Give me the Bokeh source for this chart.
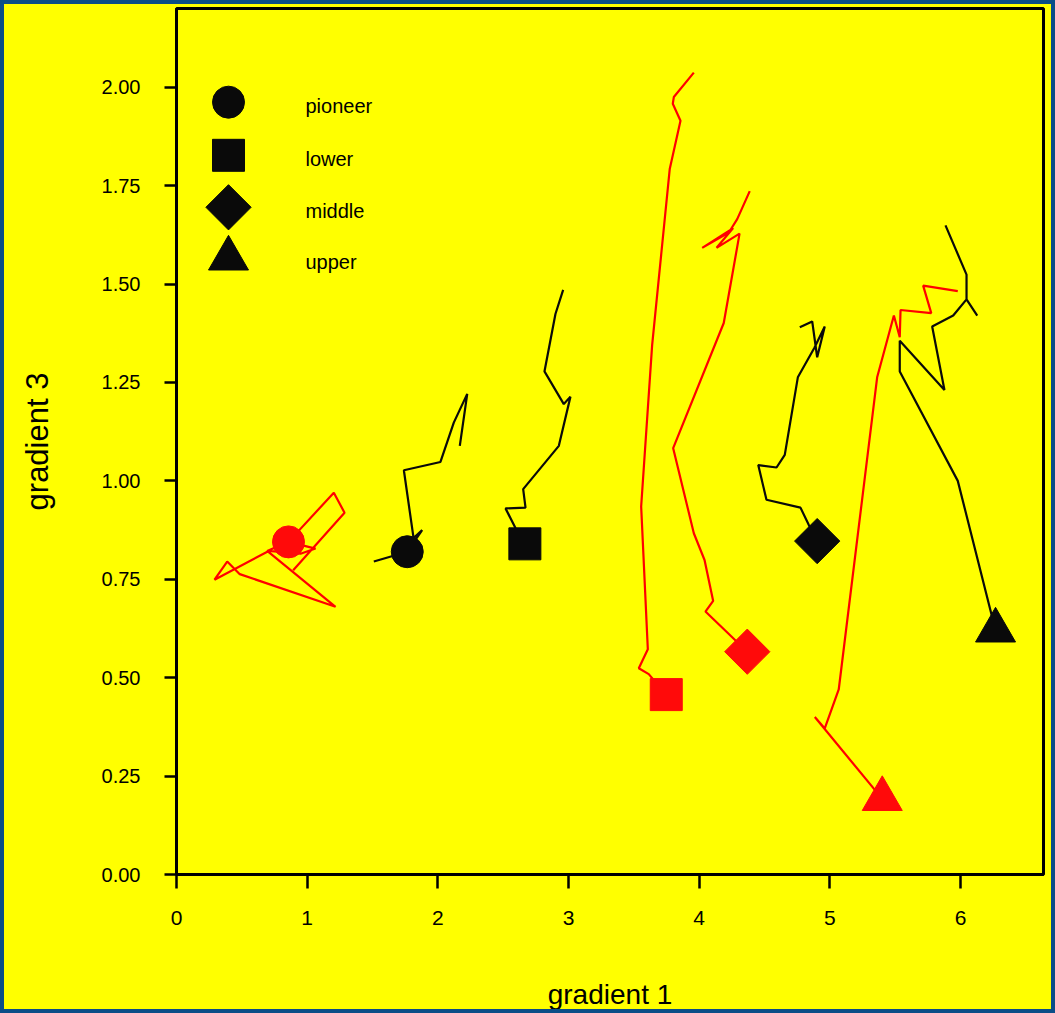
import math

from bokeh.plotting import figure
from bokeh.models import Range1d, FixedTicker, PrintfTickFormatter, ColumnDataSource
from bokeh.core.properties import value
from bokeh.embed import file_html
from bokeh.resources import INLINE

# ---- data -----------------------------------------------------------------
groups = ["pioneer", "lower", "middle", "upper"]
group_markers = ["circle", "square", "square", "triangle"]   # middle = square turned 45 deg
group_angles = [0.0, 0.0, math.pi / 4, 0.0]
group_sizes = [32, 32, 32, 40]

# end positions (gradient 1, gradient 3)
black_end_x = [1.766, 2.666, 4.903, 6.268]
black_end_y = [0.820, 0.840, 0.847, 0.620]
red_end_x = [0.857, 3.748, 4.368, 5.401]
red_end_y = [0.845, 0.457, 0.566, 0.192]

# trajectories, black series
black_pioneer_x = [1.510, 1.766, 1.880, 1.814, 1.740, 2.020, 2.122, 2.225, 2.168]
black_pioneer_y = [0.795, 0.820, 0.875, 0.855, 1.027, 1.048, 1.148, 1.221, 1.089]
black_lower_x = [2.666, 2.594, 2.518, 2.671, 2.653, 2.926, 3.015, 2.964, 2.816, 2.900, 2.959]
black_lower_y = [0.840, 0.880, 0.930, 0.932, 0.979, 1.089, 1.214, 1.195, 1.278, 1.424, 1.485]
black_middle_x = [4.903, 4.839, 4.775, 4.515, 4.452, 4.592, 4.655, 4.755, 4.883, 4.961, 4.903, 4.865, 4.770]
black_middle_y = [0.847, 0.888, 0.932, 0.952, 1.040, 1.034, 1.066, 1.263, 1.339, 1.392, 1.314, 1.405, 1.390]
black_upper_x = [6.268, 5.979, 5.535, 5.535, 5.877, 5.783, 5.944, 6.046, 6.128, 6.046, 6.046, 5.885]
black_upper_y = [0.620, 1.000, 1.278, 1.356, 1.231, 1.392, 1.420, 1.461, 1.420, 1.461, 1.524, 1.649]

# trajectories, red series
red_pioneer_x = [0.857, 1.064, 0.949, 0.706, 0.291, 0.388, 0.484, 1.217, 0.694, 0.857, 1.204, 1.286, 0.893]
red_pioneer_y = [0.845, 0.828, 0.815, 0.822, 0.749, 0.795, 0.763, 0.680, 0.822, 0.845, 0.970, 0.919, 0.773]
red_lower_x = [3.748, 3.614, 3.538, 3.607, 3.556, 3.640, 3.775, 3.857, 3.798, 3.806, 3.959]
red_lower_y = [0.457, 0.509, 0.524, 0.572, 0.935, 1.345, 1.793, 1.915, 1.958, 1.975, 2.037]
red_middle_x = [4.368, 4.048, 4.107, 4.041, 3.959, 3.801, 4.188, 4.309, 4.133, 4.260, 4.023, 4.227, 4.291, 4.387]
red_middle_y = [0.566, 0.668, 0.695, 0.799, 0.867, 1.083, 1.401, 1.628, 1.592, 1.642, 1.592, 1.631, 1.665, 1.736]
red_upper_x = [5.401, 4.885, 4.961, 5.068, 5.362, 5.490, 5.535, 5.541, 5.776, 5.714, 5.979]
red_upper_y = [0.192, 0.400, 0.371, 0.470, 1.263, 1.420, 1.365, 1.434, 1.426, 1.496, 1.482]

# key placement (data units)
key_marker_x = 0.398
key_text_x = 0.987
key_y = [1.962, 1.827, 1.695, 1.565]

x_ticks = [0, 1, 2, 3, 4, 5, 6]
y_ticks = [0.0, 0.25, 0.5, 0.75, 1.0, 1.25, 1.5, 1.75, 2.0]

# ---- styling --------------------------------------------------------------
W, H = 1055, 1013
YELLOW = "#ffff00"
RED = "#ff0a0a"
BLACK = "#0a0a0a"
FRAME_BLUE = "#0b4d87"
FONT = "Liberation Sans"

p = figure(
    width=W, height=H,
    x_range=Range1d(0, 6.635), y_range=Range1d(0, 2.2),
    output_backend="svg", toolbar_location=None,
    min_border_left=176, min_border_right=12, min_border_top=8, min_border_bottom=139,
    background_fill_color=YELLOW, border_fill_color=YELLOW,
)

p.outline_line_color = "black"
p.outline_line_width = 3
p.grid.visible = False

for ax in (p.xaxis[0], p.yaxis[0]):
    ax.axis_line_color = "black"
    ax.axis_line_width = 3
    ax.major_tick_line_color = "black"
    ax.major_tick_line_width = 2.5
    ax.major_tick_in = 0
    ax.minor_tick_line_color = None
    ax.major_label_text_font = FONT
    ax.major_label_text_color = "black"
    ax.axis_label_text_font = FONT
    ax.axis_label_text_font_style = "normal"
    ax.axis_label_text_color = "black"

p.xaxis.ticker = FixedTicker(ticks=x_ticks)
p.xaxis.major_tick_out = 14
p.xaxis.major_label_standoff = 22
p.xaxis.major_label_text_font_size = "21px"
p.xaxis.axis_label = "gradient 1"
p.xaxis.axis_label_text_font_size = "28px"
p.xaxis.axis_label_standoff = 51

p.yaxis.ticker = FixedTicker(ticks=y_ticks)
p.yaxis.formatter = PrintfTickFormatter(format="%.2f")
p.yaxis.major_tick_out = 12
p.yaxis.major_label_standoff = 24
p.yaxis.major_label_text_font_size = "20px"
p.yaxis.axis_label = "gradient 3"
p.yaxis.axis_label_text_font_size = "31px"
p.yaxis.axis_label_standoff = 44

# ---- trajectories -----------------------------------------------------------
black_paths = [
    (black_pioneer_x, black_pioneer_y),
    (black_lower_x, black_lower_y),
    (black_middle_x, black_middle_y),
    (black_upper_x, black_upper_y),
]
red_paths = [
    (red_pioneer_x, red_pioneer_y),
    (red_lower_x, red_lower_y),
    (red_middle_x, red_middle_y),
    (red_upper_x, red_upper_y),
]
for xs, ys in black_paths:
    p.line(xs, ys, line_color=BLACK, line_width=2.2)
for xs, ys in red_paths:
    p.line(xs, ys, line_color="#ff0000", line_width=2.2)

# ---- end markers ------------------------------------------------------------
def marker_source(xs, ys):
    return ColumnDataSource(dict(
        x=xs, y=ys, marker=group_markers, angle=group_angles, size=group_sizes,
    ))

p.scatter("x", "y", source=marker_source(black_end_x, black_end_y),
          marker="marker", angle="angle", size="size",
          fill_color=BLACK, line_color=BLACK, line_width=1)
p.scatter("x", "y", source=marker_source(red_end_x, red_end_y),
          marker="marker", angle="angle", size="size",
          fill_color=RED, line_color=RED, line_width=1)

# ---- key ------------------------------------------------------------------
p.scatter("x", "y", source=marker_source([key_marker_x] * 4, key_y),
          marker="marker", angle="angle", size="size",
          fill_color=BLACK, line_color=BLACK, line_width=1)
p.text([key_text_x] * 4, key_y, text=groups,
       text_font=value(FONT), text_font_size="20px", text_color="black",
       text_baseline="middle", text_align="left", y_offset=4)

# ---- page, with a blue frame laid over the whole figure ---------------------
html = file_html(p, INLINE)
frame_div = (
    '<div style="position:fixed;left:0;top:0;width:%dpx;height:%dpx;'
    'box-sizing:border-box;border:4px solid %s;pointer-events:none;'
    'z-index:1000;"></div>\n' % (W, H, FRAME_BLUE)
)
cut = html.rfind("</body>")
if cut != -1:
    html = html[:cut] + frame_div + html[cut:]
open("out.html", "w").write(html)
